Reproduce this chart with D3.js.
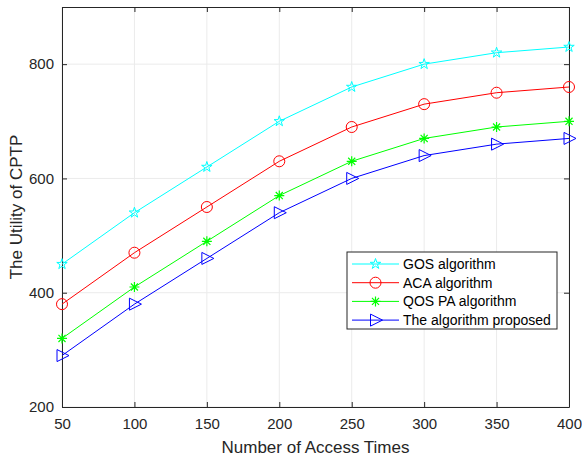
<!DOCTYPE html>
<html>
<head>
<meta charset="utf-8">
<script src="https://cdn.jsdelivr.net/npm/d3@7"></script>
<style>
body { margin: 0; background: #fff; }
text { font-family: "Liberation Sans", Arial, sans-serif; fill: #262626; }
</style>
</head>
<body>
<div id="chart"></div>
<script>
// data
var accessTimes = [50, 100, 150, 200, 250, 300, 350, 400];
var gosVals = [450, 540, 620, 700, 760, 800, 820, 830];
var acaVals = [380, 470, 550, 630, 690, 730, 750, 760];
var qosVals = [320, 410, 490, 570, 630, 670, 690, 700];
var propVals = [290, 380, 460, 540, 600, 640, 660, 670];
var seriesNames = ["GOS algorithm", "ACA algorithm", "QOS PA algorithm", "The algorithm proposed"];
var yTicks = [200, 400, 600, 800];

var series = [
      { name: seriesNames[0], vals: gosVals, color: "#00ffff", marker: "star" },
      { name: seriesNames[1], vals: acaVals, color: "#ff0000", marker: "circle" },
      { name: seriesNames[2], vals: qosVals, color: "#00ff00", marker: "asterisk" },
      { name: seriesNames[3], vals: propVals, color: "#0000ff", marker: "tri" }
];

var W = 582, H = 458;
var margin = { top: 7, right: 13, bottom: 51, left: 62 },
      width = W - margin.left - margin.right,
      height = H - margin.top - margin.bottom;

var svg = d3.select("#chart").append("svg")
      .attr("width", W).attr("height", H)
      .append("g")
      .attr("transform", "translate(" + margin.left + "," + margin.top + ")");

var x = d3.scaleLinear().domain([50, 400]).range([0, width]);
var y = d3.scaleLinear().domain([200, 900]).range([height, 0]);

// grid
svg.append("g").selectAll("line").data(accessTimes).enter().append("line")
      .attr("x1", d => x(d)).attr("x2", d => x(d))
      .attr("y1", 0).attr("y2", height)
      .attr("stroke", "#ebebeb").attr("stroke-width", 1);
svg.append("g").selectAll("line").data(yTicks).enter().append("line")
      .attr("x1", 0).attr("x2", width)
      .attr("y1", d => y(d)).attr("y2", d => y(d))
      .attr("stroke", "#ebebeb").attr("stroke-width", 1);

// axes (ticks point inward)
var xAx = svg.append("g").attr("transform", "translate(0," + height + ")")
      .call(d3.axisBottom(x).tickValues(accessTimes).tickSizeInner(-5).tickSizeOuter(0).tickPadding(11));
var xTop = svg.append("g")
      .call(d3.axisTop(x).tickValues(accessTimes).tickSizeInner(-5).tickSizeOuter(0).tickFormat(""));
var yAx = svg.append("g")
      .call(d3.axisLeft(y).tickValues(yTicks).tickSizeInner(-5).tickSizeOuter(0).tickPadding(8));
var yRight = svg.append("g").attr("transform", "translate(" + width + ",0)")
      .call(d3.axisRight(y).tickValues(yTicks).tickSizeInner(-5).tickSizeOuter(0).tickFormat(""));

[xAx, xTop, yAx, yRight].forEach(function (a) {
      a.selectAll("path").attr("stroke", "#262626");
      a.selectAll("line").attr("stroke", "#262626");
      a.selectAll("text").attr("font-size", "15px").style("fill", "#262626");
});

function drawMarker(g, type, color, cx, cy) {
      if (type == "circle") {
            g.append("circle").attr("cx", cx).attr("cy", cy).attr("r", 5.5)
                  .attr("fill", "none").attr("stroke", color).attr("stroke-width", 1);
      } else if (type == "star") {
            g.append("path").attr("d", d3.symbol(d3.symbolStar, 34)())
                  .attr("transform", "translate(" + cx + "," + cy + ")")
                  .attr("fill", "none").attr("stroke", color).attr("stroke-width", 1);
      } else if (type == "asterisk") {
            var r = 5, p = "";
            [0, 45, 90, 135].forEach(function (a) {
                  var t = a * Math.PI / 180;
                  p += "M" + (cx - r * Math.cos(t)) + "," + (cy - r * Math.sin(t)) +
                        "L" + (cx + r * Math.cos(t)) + "," + (cy + r * Math.sin(t));
            });
            g.append("path").attr("d", p).attr("stroke", color).attr("stroke-width", 1.2).attr("fill", "none");
      } else if (type == "tri") {
            var p = "M" + (cx - 5) + "," + (cy - 6) + "L" + (cx + 7) + "," + cy + "L" + (cx - 5) + "," + (cy + 6) + "Z";
            g.append("path").attr("d", p).attr("stroke", color).attr("stroke-width", 1).attr("fill", "none");
      }
}

var line = d3.line().x((d, i) => x(accessTimes[i])).y(d => y(d));

series.forEach(function (s) {
      var g = svg.append("g");
      g.append("path").datum(s.vals).attr("d", line)
            .attr("fill", "none").attr("stroke", s.color).attr("stroke-width", 1);
      s.vals.forEach(function (v, i) {
            drawMarker(g, s.marker, s.color, x(accessTimes[i]), y(v));
      });
});

// legend
var lg = svg.append("g").attr("transform", "translate(" + (347 - margin.left) + "," + (252 - margin.top) + ")");
lg.append("rect").attr("width", 210).attr("height", 77)
      .attr("fill", "#fff").attr("stroke", "#262626").attr("stroke-width", 1);
series.forEach(function (s, i) {
      var ly = 12 + i * 18.7;
      lg.append("line").attr("x1", 5).attr("x2", 52).attr("y1", ly).attr("y2", ly)
            .attr("stroke", s.color).attr("stroke-width", 1);
      drawMarker(lg, s.marker, s.color, 28.5, ly);
      lg.append("text").attr("x", 56).attr("y", ly + 5)
            .attr("font-size", "14px").style("fill", "#000").text(s.name);
});

// axis labels
svg.append("text").attr("x", width / 2).attr("y", height + 46)
      .attr("text-anchor", "middle").attr("font-size", "17px").text("Number of Access Times");
svg.append("text").attr("transform", "rotate(-90)")
      .attr("x", -height / 2).attr("y", -40)
      .attr("text-anchor", "middle").attr("font-size", "17px").text("The Utility of CPTP");
</script>
</body>
</html>
